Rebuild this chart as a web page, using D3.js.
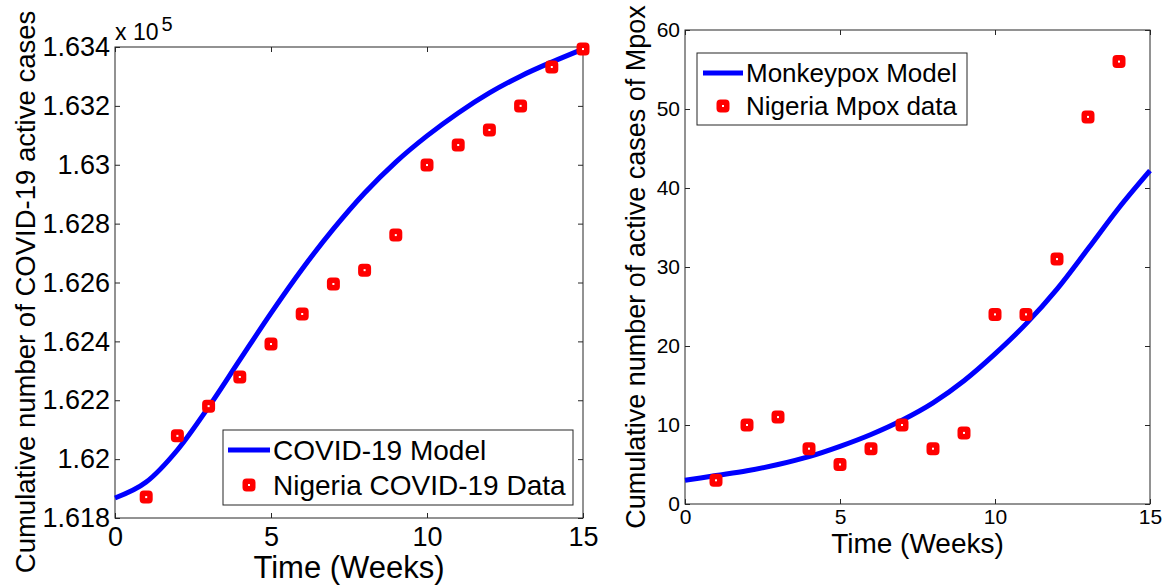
<!DOCTYPE html>
<html>
<head>
<meta charset="utf-8">
<script src="https://cdn.jsdelivr.net/npm/d3@7"></script>
<style>
  html, body { margin: 0; padding: 0; background: #fff; }
  svg { display: block; font-family: Arial, "Liberation Sans", sans-serif; }
</style>
</head>
<body>
<svg id="chart" width="1163" height="586"></svg>
<script>
// ---------- Data ----------
const weeks = d3.range(0, 16);            // model time grid 0..15
const dataWeeksCovid = d3.range(1, 16);   // observed weeks 1..15
const dataWeeksMpox = d3.range(1, 15);    // observed weeks 1..14

const covidModel = [161868, 161922, 162031, 162177, 162337, 162496, 162646, 162782,
                    162904, 163009, 163098, 163176, 163244, 163301, 163349, 163393];
const covidData  = [161871, 162079, 162180, 162279, 162391, 162493, 162595, 162642,
                    162761, 162999, 163067, 163118, 163200, 163332, 163393];

const mpoxModel = [3.0, 3.6, 4.2, 5.0, 6.0, 7.3, 8.8, 10.6, 12.8, 15.6, 19.0, 22.8,
                   27.2, 32.3, 37.5, 42.2];
const mpoxData  = [3, 10, 11, 7, 5, 7, 10, 7, 9, 24, 24, 31, 49, 56];

const xTicks = [0, 5, 10, 15];
const covidTicks = [161800, 162000, 162200, 162400, 162600, 162800, 163000, 163200, 163400];
const covidTickLabels = ["1.618", "1.62", "1.622", "1.624", "1.626", "1.628", "1.63", "1.632", "1.634"];
const mpoxTicks = [0, 10, 20, 30, 40, 50, 60];

const labels = {
  covidY: "Cumulative number of COVID-19 active cases",
  mpoxY: "Cumulative number of active cases of Mpox",
  x: "Time (Weeks)",
  covidModel: "COVID-19 Model",
  covidData: "Nigeria COVID-19 Data",
  mpoxModel: "Monkeypox Model",
  mpoxData: "Nigeria Mpox data"
};

// ---------- Drawing ----------
const svg = d3.select("#chart");
const AXIS = "#262626";
const BLUE = "#0000ff";
const RED = "#ff0000";

function marker(g, x, y) {
  g.append("rect").attr("x", x - 5.5).attr("y", y - 5.5).attr("width", 11).attr("height", 11)
    .attr("rx", 3).attr("fill", RED).attr("stroke", RED).attr("stroke-width", 2);
  g.append("rect").attr("x", x - 1).attr("y", y - 1).attr("width", 2).attr("height", 2)
    .attr("fill", "#fff");
}

function panel(opts) {
  const g = svg.append("g");
  const x = d3.scaleLinear().domain([0, 15]).range([opts.left, opts.right]);
  const y = d3.scaleLinear().domain(opts.yDomain).range([opts.bottom, opts.top]);

  // frame
  g.append("rect").attr("x", opts.left).attr("y", opts.top)
    .attr("width", opts.right - opts.left).attr("height", opts.bottom - opts.top)
    .attr("fill", "none").attr("stroke", AXIS).attr("stroke-width", 1);

  const style = (sel, fs) => {
    sel.select(".domain").remove();
    sel.selectAll(".tick line").attr("stroke", AXIS);
    sel.selectAll(".tick text").attr("fill", "#000").attr("font-size", fs)
      .attr("font-family", "Arial, 'Liberation Sans', sans-serif");
  };

  // axes with inward ticks on all sides
  g.append("g").attr("transform", `translate(0,${opts.bottom})`)
    .call(d3.axisBottom(x).tickValues(xTicks).tickSize(-5).tickPadding(opts.xPad).tickFormat(d3.format("d")))
    .call(s => style(s, opts.tickFs));
  g.append("g").attr("transform", `translate(0,${opts.top})`)
    .call(d3.axisTop(x).tickValues(xTicks).tickSize(-5).tickFormat(""))
    .call(s => style(s, opts.tickFs));
  g.append("g").attr("transform", `translate(${opts.left},0)`)
    .call(d3.axisLeft(y).tickValues(opts.yTicks).tickSize(-5).tickPadding(opts.yPad)
      .tickFormat((d, i) => opts.yTickLabels[i]))
    .call(s => style(s, opts.tickFs));
  g.append("g").attr("transform", `translate(${opts.right},0)`)
    .call(d3.axisRight(y).tickValues(opts.yTicks).tickSize(-5).tickFormat(""))
    .call(s => style(s, opts.tickFs));

  // model line
  const line = d3.line().x((d, i) => x(weeks[i])).y(d => y(d)).curve(d3.curveMonotoneX);
  g.append("path").datum(opts.model).attr("d", line)
    .attr("fill", "none").attr("stroke", BLUE).attr("stroke-width", 5)
    .attr("stroke-linejoin", "round");

  // data markers
  opts.data.forEach((v, i) => marker(g, x(opts.dataWeeks[i]), y(v)));

  // axis titles
  g.append("text").attr("x", (opts.left + opts.right) / 2).attr("y", opts.xLabelY)
    .attr("text-anchor", "middle").attr("font-size", opts.xLabelFs).attr("fill", "#000")
    .text(labels.x);
  g.append("text").attr("transform", `translate(${opts.yLabelX},${opts.yLabelCY}) rotate(-90)`)
    .attr("text-anchor", "middle").attr("font-size", opts.yLabelFs).attr("fill", "#000")
    .text(opts.yLabel);

  // legend
  const L = opts.legend;
  g.append("rect").attr("x", L.x0).attr("y", L.y0).attr("width", L.x1 - L.x0).attr("height", L.y1 - L.y0)
    .attr("fill", "#fff").attr("stroke", AXIS).attr("stroke-width", 1);
  g.append("line").attr("x1", L.lx0).attr("x2", L.lx1).attr("y1", L.row1).attr("y2", L.row1)
    .attr("stroke", BLUE).attr("stroke-width", 5);
  marker(g, (L.lx0 + L.lx1) / 2, L.row2);
  g.append("text").attr("x", L.tx).attr("y", L.row1).attr("dy", "0.36em")
    .attr("font-size", L.fs).attr("fill", "#000").text(L.t1);
  g.append("text").attr("x", L.tx).attr("y", L.row2).attr("dy", "0.36em")
    .attr("font-size", L.fs).attr("fill", "#000").text(L.t2);
  return g;
}

// Left panel: COVID-19
const gl = panel({
  left: 115, right: 583, top: 47, bottom: 518,
  yDomain: [161800, 163400], yTicks: covidTicks, yTickLabels: covidTickLabels,
  model: covidModel, data: covidData, dataWeeks: dataWeeksCovid,
  tickFs: 27, xPad: 9, yPad: 5,
  xLabelY: 578, xLabelFs: 31, yLabelX: 35, yLabelCY: 292, yLabelFs: 27.5, yLabel: labels.covidY,
  legend: { x0: 223, x1: 573, y0: 430, y1: 505, lx0: 228, lx1: 270, row1: 450, row2: 485,
            tx: 273, fs: 28, t1: labels.covidModel, t2: labels.covidData }
});
// exponent label
const ex = gl.append("text").attr("x", 115).attr("y", 40).attr("font-size", 23).attr("fill", "#000");
ex.append("tspan").text("x 10");
ex.append("tspan").attr("font-size", 20).attr("dx", 3).attr("dy", -9).text("5");

// Right panel: Mpox
panel({
  left: 685, right: 1150, top: 30, bottom: 504,
  yDomain: [0, 60], yTicks: mpoxTicks, yTickLabels: mpoxTicks.map(String),
  model: mpoxModel, data: mpoxData, dataWeeks: dataWeeksMpox,
  tickFs: 21, xPad: 5, yPad: 5,
  xLabelY: 553, xLabelFs: 28, yLabelX: 645, yLabelCY: 267, yLabelFs: 27, yLabel: labels.mpoxY,
  legend: { x0: 697, x1: 967, y0: 53, y1: 125, lx0: 703, lx1: 743, row1: 73, row2: 106,
            tx: 746, fs: 26, t1: labels.mpoxModel, t2: labels.mpoxData }
});
</script>
</body>
</html>
